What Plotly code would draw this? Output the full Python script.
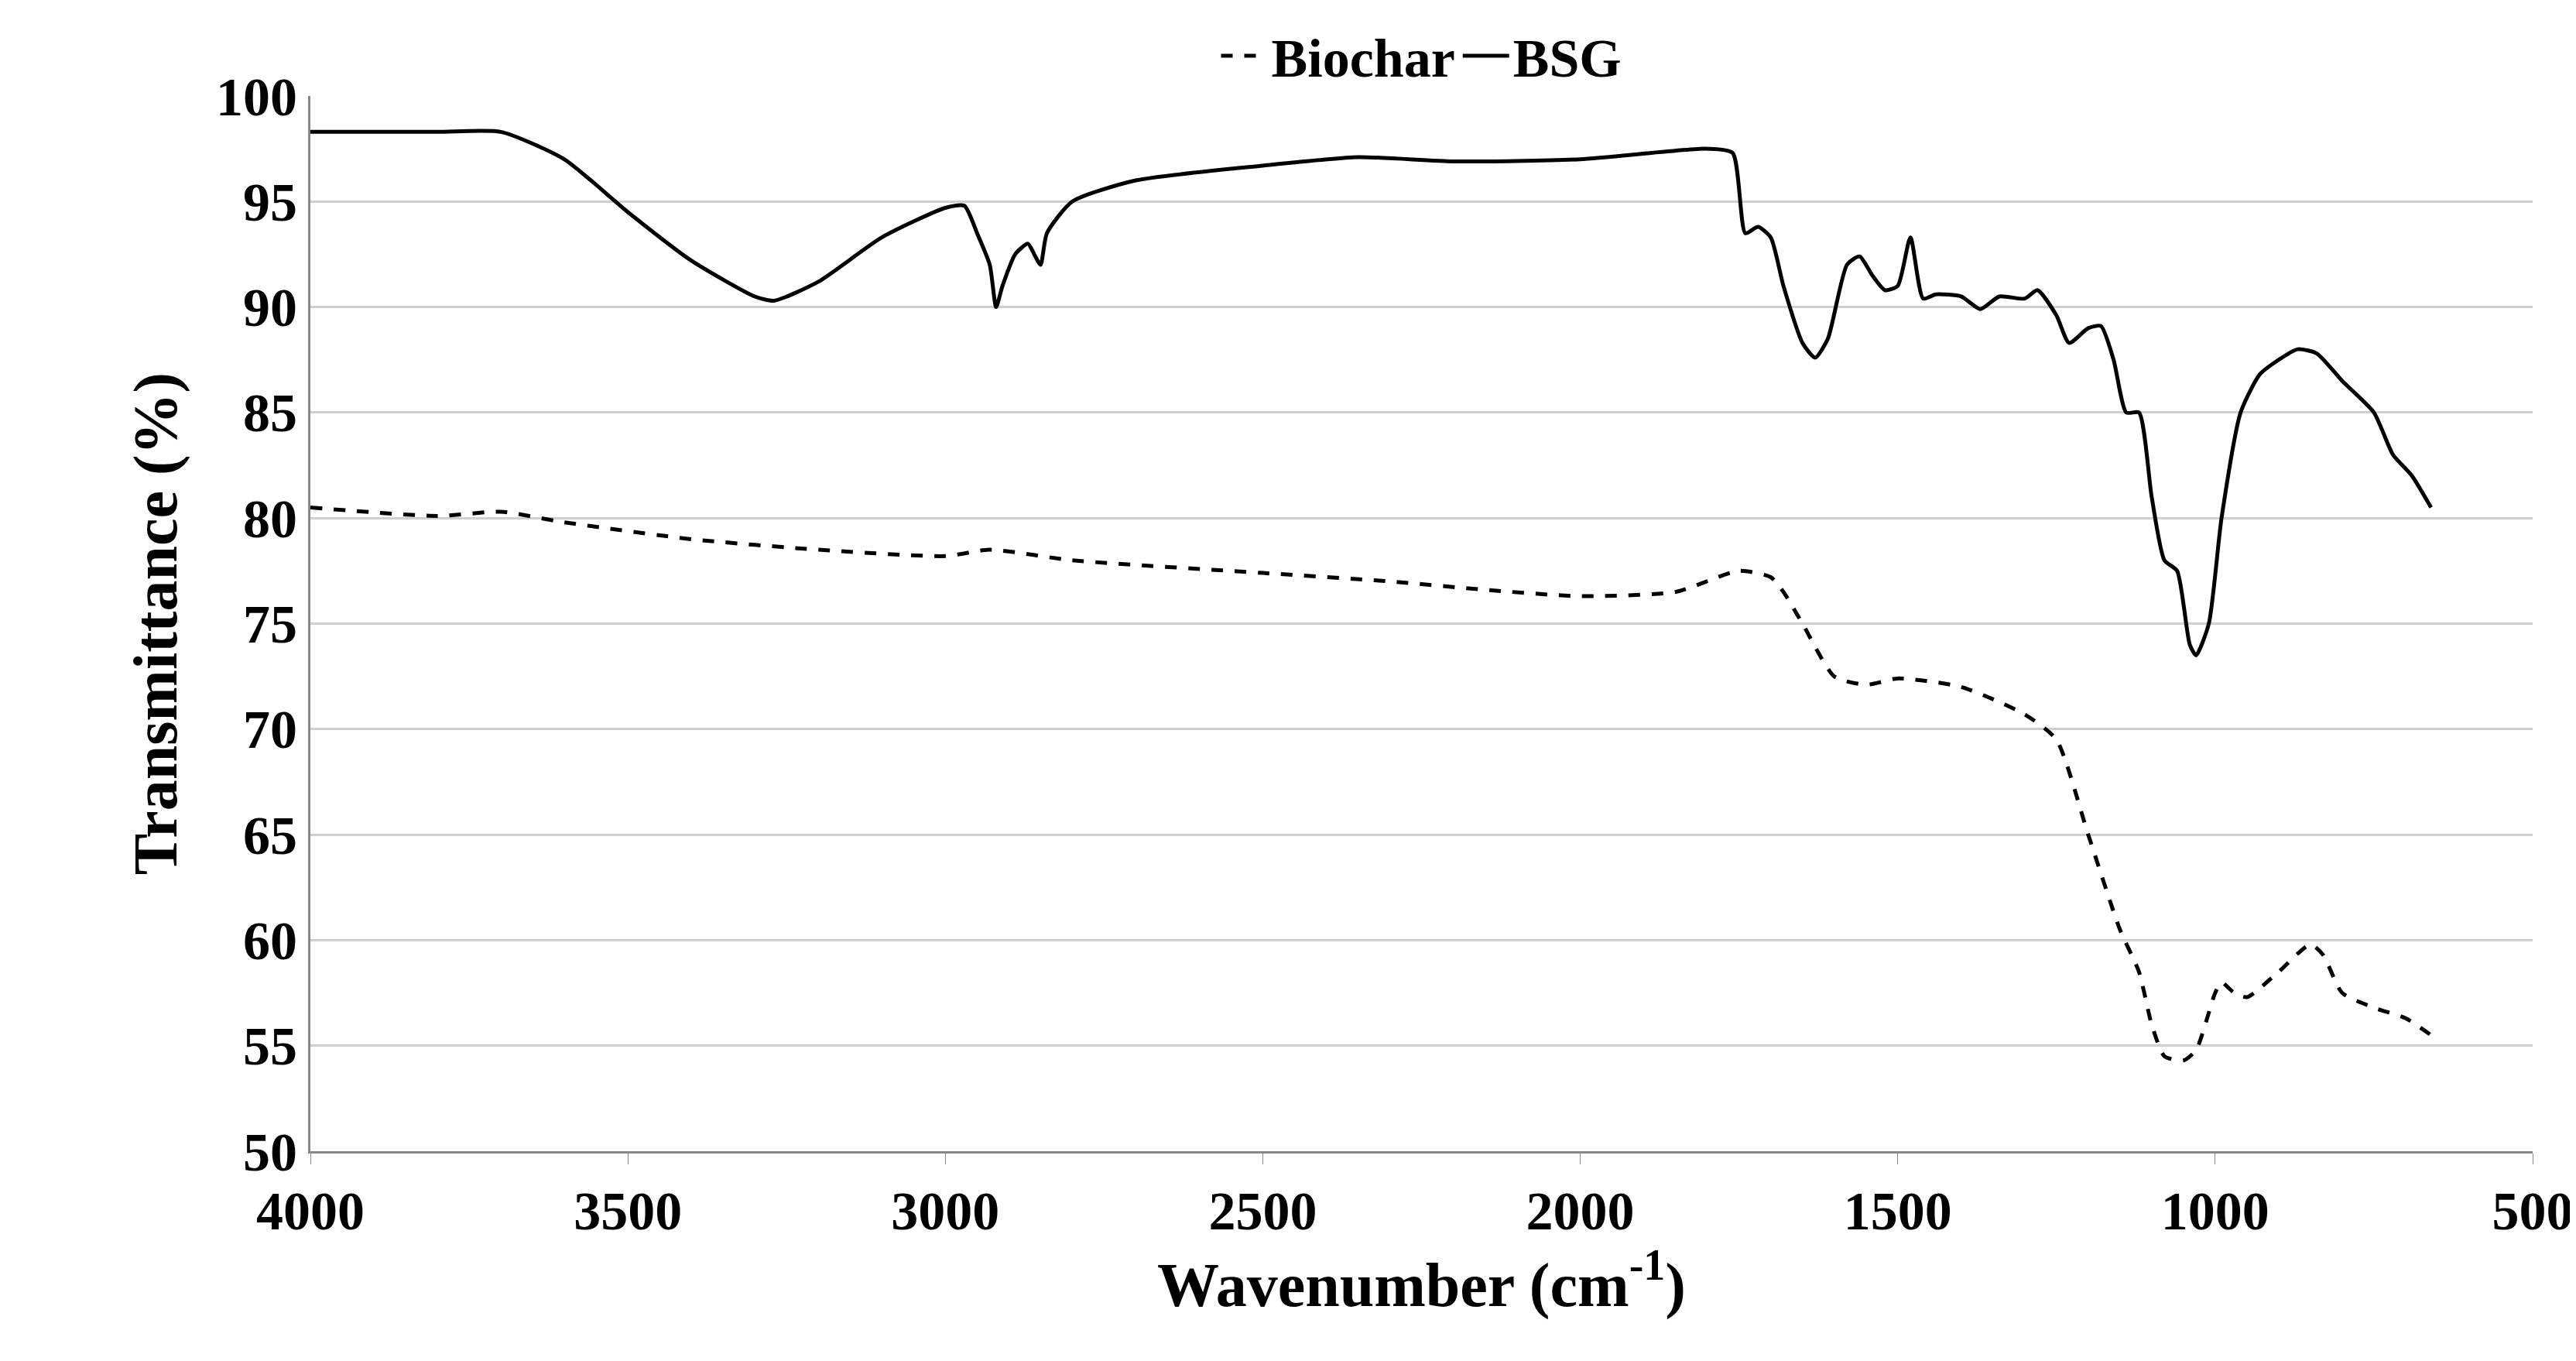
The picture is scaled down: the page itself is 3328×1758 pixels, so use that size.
import plotly.graph_objects as go

# BSG spectrum (wavenumber, transmittance)
bsg_x = [4000, 3800, 3700, 3600, 3500, 3400, 3300, 3270, 3200, 3100, 3000, 2970, 2950, 2930, 2920, 2910,
         2890, 2870, 2860, 2850, 2840, 2800, 2700, 2500, 2350, 2200, 2000, 1800, 1760, 1740, 1720,
         1700, 1680, 1650, 1630, 1610, 1580, 1560, 1540, 1520, 1500, 1480, 1460, 1440, 1400, 1370,
         1340, 1300, 1280, 1250, 1230, 1200, 1180, 1160, 1140, 1120, 1100, 1080, 1060, 1040, 1030,
         1010, 990, 960, 930, 900, 870, 840, 800, 750, 720, 690, 660]
bsg_y = [98.3, 98.3, 98.3, 97, 94.5, 92.2, 90.5, 90.3, 91.2, 93.3, 94.7, 94.8, 93.5, 92, 90, 91,
         92.5, 93, 92.5, 92, 93.5, 95, 96, 96.7, 97.1, 96.9, 97, 97.5, 97.3, 93.5, 93.8,
         93.3, 91, 88.3, 87.6, 88.5, 92, 92.4, 91.5, 90.8, 91, 93.3, 90.4, 90.6, 90.5, 89.9,
         90.5, 90.4, 90.8, 89.6, 88.3, 89, 89.1, 87.5, 85, 85, 81, 78, 77.5, 74, 73.5,
         75, 80, 85, 86.8, 87.5, 88, 87.8, 86.5, 85, 83, 82, 80.5]

# Biochar spectrum
bio_x = [4000, 3800, 3700, 3600, 3400, 3200, 3000, 2930, 2800, 2500, 2300, 2150, 2000, 1850, 1750,
         1700, 1680, 1650, 1600, 1550, 1500, 1400, 1300, 1250, 1200, 1150, 1120, 1100, 1080, 1050,
         1030, 1000, 990, 970, 950, 900, 850, 830, 800, 750, 700, 660]
bio_y = [80.5, 80.1, 80.3, 79.8, 79, 78.5, 78.2, 78.5, 78, 77.4, 77, 76.6, 76.3, 76.5, 77.5,
         77.2, 76.5, 75, 72.5, 72.1, 72.4, 72, 70.7, 69.5, 65, 60.5, 58.5, 56, 54.5, 54.3,
         54.8, 57.5, 58, 57.5, 57.3, 58.5, 59.8, 59.3, 57.5, 56.8, 56.3, 55.5]

font = "Liberation Serif"

fig = go.Figure()
fig.add_trace(go.Scatter(x=bio_x, y=bio_y, name="<b>Biochar</b>", mode="lines",
                         line=dict(color="black", width=5, dash="dash", shape="spline", smoothing=0.6)))
fig.add_trace(go.Scatter(x=bsg_x, y=bsg_y, name="<b>BSG</b>", mode="lines",
                         line=dict(color="black", width=5, shape="spline", smoothing=0.6)))

fig.update_layout(
    width=3328, height=1758, plot_bgcolor="white", paper_bgcolor="white",
    margin=dict(l=393, r=64, t=112, b=279),
    font=dict(family=font, size=70, color="black"),
    legend=dict(orientation="h", x=0.5, xanchor="center", y=1.0, yanchor="bottom",
                font=dict(size=70), itemwidth=60),
)
fig.update_xaxes(range=[4000, 500], dtick=500, showgrid=False, showline=True,
                 linecolor="#888", linewidth=3, ticks="outside", ticklen=14, tickcolor="#888",
                 tickfont=dict(size=70), tickprefix="<b>", ticksuffix="</b>",
                 title=dict(text="<b>Wavenumber (cm<sup>-1</sup>)</b>", font=dict(size=80), standoff=15))
fig.update_yaxes(range=[50, 100], dtick=5, showgrid=True, gridcolor="#d0d0d0", gridwidth=3,
                 showline=True, linecolor="#888", linewidth=3, zeroline=False,
                 tickfont=dict(size=70), tickprefix="<b>", ticksuffix="</b>",
                 title=dict(text="<b>Transmittance (%)</b>", font=dict(size=80), standoff=25))

fig.write_html("out.html")
